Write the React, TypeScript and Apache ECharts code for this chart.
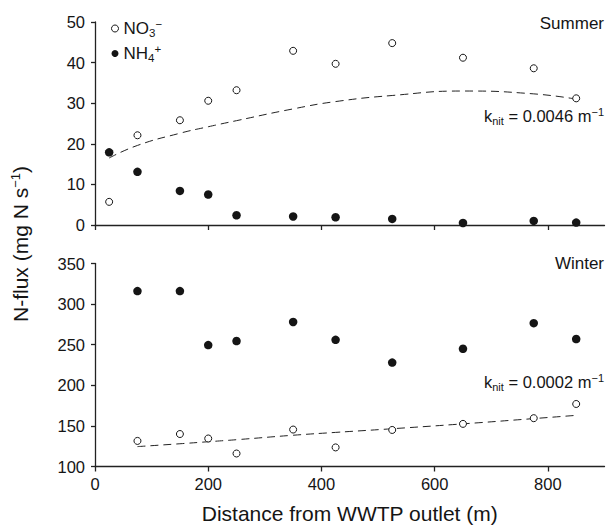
import React, { useEffect, useRef } from 'react';
import * as echarts from 'echarts';

const summerDistance = [25, 75, 150, 200, 250, 350, 425, 525, 650, 775, 850];
const summerNO3 = [5.7, 22.1, 25.8, 30.6, 33.2, 42.9, 39.7, 44.8, 41.2, 38.6, 31.2];
const summerNH4 = [17.9, 13.1, 8.4, 7.5, 2.4, 2.1, 1.9, 1.5, 0.5, 1.0, 0.6];
const summerFit = [16.5, 19.6, 22.6, 24.2, 25.7, 28.6, 30.4, 31.9, 33.0, 32.3, 31.0];
const winterDistance = [75, 150, 200, 250, 350, 425, 525, 650, 775, 850];
const winterNO3 = [131.5, 140, 134.5, 116, 145.5, 123.5, 145, 152.5, 159.5, 177];
const winterNH4 = [316, 316, 249.5, 254.5, 278, 256, 228, 245, 276.5, 257];
const winterFit = [124.5, 128, 130.5, 133, 138.5, 142, 146.5, 152.5, 159, 163];
const xTicks = [0, 200, 400, 600, 800];
const summerYTicks = [0, 10, 20, 30, 40, 50];
const winterYTicks = [100, 150, 200, 250, 300, 350];

const FONT = 'Liberation Sans, Arial, Helvetica, sans-serif';
const INK = '#151515';
const AXIS = '#222222';

const zip = (xs: number[], ys: number[]) => xs.map((x, i) => [x, ys[i]]);

const axisCommon = {
  axisLine: { show: true, onZero: false, lineStyle: { color: AXIS, width: 1.3 } },
  splitLine: { show: false },
};

export default function App() {
  const ref = useRef<HTMLDivElement>(null);
  useEffect(() => {
    if (!ref.current) return;
    const chart = echarts.init(ref.current, null, { renderer: 'svg' });
    const openStyle = { color: '#ffffff', borderColor: INK, borderWidth: 1, opacity: 1 };
    const filledStyle = { color: INK, borderColor: INK, borderWidth: 0, opacity: 1 };
    const lineStyle = { color: AXIS, width: 1, type: [8, 5] as any };
    const xAxisBase = (gridIndex: number, showLabels: boolean) => ({
      type: 'value',
      gridIndex,
      min: 0,
      max: 900,
      interval: 200,
      ...axisCommon,
      axisTick: {
        show: true,
        inside: false,
        length: 5,
        lineStyle: { color: AXIS, width: 1.3 },
        customValues: xTicks,
      },
      axisLabel: {
        show: showLabels,
        customValues: xTicks,
        margin: 9,
        color: INK,
        fontSize: 16.5,
        fontFamily: FONT,
      },
    });
    const yAxisBase = (gridIndex: number, min: number, max: number, interval: number, ticks: number[]) => ({
      type: 'value',
      gridIndex,
      min,
      max,
      interval,
      ...axisCommon,
      axisTick: {
        show: true,
        inside: false,
        length: 4,
        lineStyle: { color: AXIS, width: 1.3 },
        customValues: ticks,
      },
      axisLabel: {
        customValues: ticks,
        margin: 10,
        color: INK,
        fontSize: 16.5,
        fontFamily: FONT,
      },
    });
    const richBase = {
      b: { fontSize: 16.5, fontFamily: FONT, fill: INK, color: INK },
      sub: { fontSize: 11, fontFamily: FONT, fill: INK, color: INK, padding: [9, 0, 0, 0] },
      sup: { fontSize: 11, fontFamily: FONT, fill: INK, color: INK, padding: [0, 0, 9, 0] },
    };
    const option: any = {
      animation: false,
      backgroundColor: '#ffffff',
      grid: [
        { left: 95, top: 22, width: 509.5, height: 203, containLabel: false },
        { left: 95, top: 263.5, width: 509.5, height: 203, containLabel: false },
      ],
      xAxis: [
        xAxisBase(0, false),
        {
          ...xAxisBase(1, true),
          name: 'Distance from WWTP outlet (m)',
          nameLocation: 'middle',
          nameGap: 36,
          nameTextStyle: { fontSize: 21, fontFamily: FONT, color: INK },
        },
      ],
      yAxis: [
        yAxisBase(0, 0, 50, 10, summerYTicks),
        yAxisBase(1, 100, 350, 50, winterYTicks),
      ],
      legend: {
        orient: 'vertical',
        left: 106,
        top: 13,
        itemWidth: 7,
        itemHeight: 7,
        itemGap: 4,
        data: [
          { name: 'NO3', itemStyle: { color: '#ffffff', borderColor: INK, borderWidth: 1, opacity: 1 } },
          { name: 'NH4', itemStyle: { color: INK, borderWidth: 0, opacity: 1 } },
        ],
        formatter: (name: string) =>
          name === 'NO3' ? '{b|NO}{sub|3}{sup|−}' : '{b|NH}{sub|4}{sup|+}',
        textStyle: {
          fontFamily: FONT,
          color: INK,
          rich: {
            b: { fontSize: 17, fontFamily: FONT, color: INK },
            sub: { fontSize: 11.5, fontFamily: FONT, color: INK, padding: [9, 0, 0, 0] },
            sup: { fontSize: 11.5, fontFamily: FONT, color: INK, padding: [0, 0, 9, 0] },
          },
        },
      },
      graphic: [
        {
          type: 'text',
          x: 604,
          y: 23,
          style: {
            text: 'Summer',
            fontSize: 17,
            fontFamily: FONT,
            fill: INK,
            align: 'right',
            verticalAlign: 'middle',
            textAlign: 'right',
            textVerticalAlign: 'middle',
          },
        },
        {
          type: 'text',
          x: 604,
          y: 263.5,
          style: {
            text: 'Winter',
            fontSize: 17,
            fontFamily: FONT,
            fill: INK,
            align: 'right',
            verticalAlign: 'middle',
            textAlign: 'right',
            textVerticalAlign: 'middle',
          },
        },
        {
          type: 'text',
          x: 604,
          y: 116,
          style: {
            text: '{b|k}{sub|nit}{b| = 0.0046 m}{sup|−1}',
            rich: richBase,
            fill: INK,
            align: 'right',
            verticalAlign: 'middle',
            textAlign: 'right',
            textVerticalAlign: 'middle',
          },
        },
        {
          type: 'text',
          x: 604,
          y: 382,
          style: {
            text: '{b|k}{sub|nit}{b| = 0.0002 m}{sup|−1}',
            rich: richBase,
            fill: INK,
            align: 'right',
            verticalAlign: 'middle',
            textAlign: 'right',
            textVerticalAlign: 'middle',
          },
        },
        {
          type: 'text',
          x: 20,
          y: 244,
          rotation: Math.PI / 2,
          style: {
            text: '{a|N-flux (mg N s}{sup|−1}{a|)}',
            rich: {
              a: { fontSize: 21, fontFamily: FONT, fill: INK, color: INK },
              sup: { fontSize: 13, fontFamily: FONT, fill: INK, color: INK, padding: [0, 0, 10, 0] },
            },
            fill: INK,
            align: 'center',
            verticalAlign: 'middle',
            textAlign: 'center',
            textVerticalAlign: 'middle',
          },
        },
      ],
      series: [
        {
          name: 'summerFit',
          type: 'line',
          xAxisIndex: 0,
          yAxisIndex: 0,
          data: zip(summerDistance, summerFit),
          smooth: 0.5,
          showSymbol: false,
          symbol: 'none',
          lineStyle,
          z: 1,
        },
        {
          name: 'NO3',
          type: 'scatter',
          xAxisIndex: 0,
          yAxisIndex: 0,
          data: zip(summerDistance, summerNO3),
          symbol: 'circle',
          symbolSize: 7,
          itemStyle: openStyle,
          z: 3,
        },
        {
          name: 'NH4',
          type: 'scatter',
          xAxisIndex: 0,
          yAxisIndex: 0,
          data: zip(summerDistance, summerNH4),
          symbol: 'circle',
          symbolSize: 8.5,
          itemStyle: filledStyle,
          z: 3,
        },
        {
          name: 'winterFit',
          type: 'line',
          xAxisIndex: 1,
          yAxisIndex: 1,
          data: zip(winterDistance, winterFit),
          smooth: 0.5,
          showSymbol: false,
          symbol: 'none',
          lineStyle,
          z: 1,
        },
        {
          name: 'NO3',
          type: 'scatter',
          xAxisIndex: 1,
          yAxisIndex: 1,
          data: zip(winterDistance, winterNO3),
          symbol: 'circle',
          symbolSize: 7,
          itemStyle: openStyle,
          z: 3,
        },
        {
          name: 'NH4',
          type: 'scatter',
          xAxisIndex: 1,
          yAxisIndex: 1,
          data: zip(winterDistance, winterNH4),
          symbol: 'circle',
          symbolSize: 8.5,
          itemStyle: filledStyle,
          z: 3,
        },
      ],
    };
    chart.setOption(option);
    return () => chart.dispose();
  }, []);
  return (
    <div
      ref={ref}
      style={{ position: 'fixed', left: 0, top: 0, width: 606, height: 525, background: '#fff' }}
    />
  );
}
